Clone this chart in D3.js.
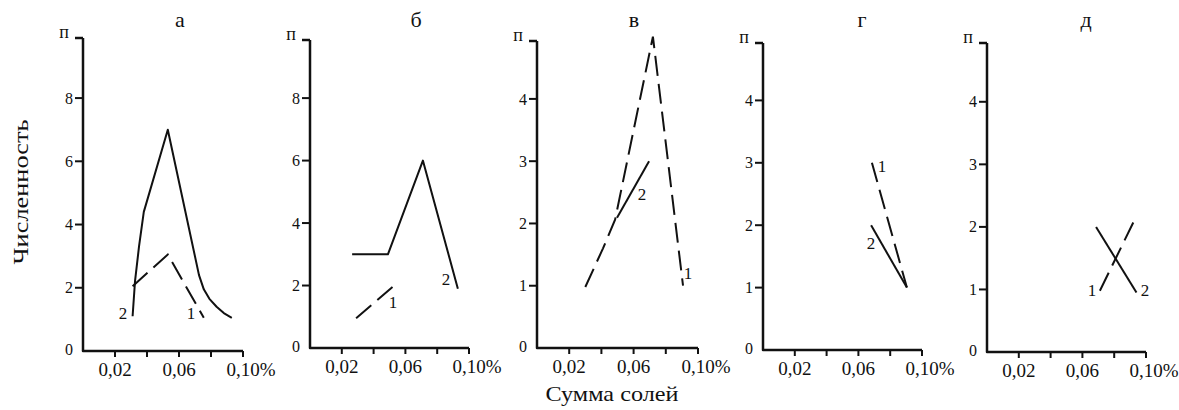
<!DOCTYPE html>
<html><head><meta charset="utf-8">
<script src="https://cdn.jsdelivr.net/npm/d3@7"></script>
<style>
body{margin:0;background:#fff}
svg{display:block}
text{font-family:"Liberation Serif","Times New Roman",serif;fill:#111}
</style>
</head><body>
<svg id="chart" width="1179" height="410"></svg>
<script>
// ---- DATA ----
const panelTitles = ["а", "б", "в", "г", "д"];
const yTicksA = [0, 2, 4, 6, 8];          // panels а, б
const yTicksB = [0, 1, 2, 3, 4];          // panels в, г, д
const xTicks = [0.02, 0.04, 0.06, 0.08, 0.10];
const xTickLabels = ["0,02", "", "0,06", "", "0,10%"];
const yAxisSymbol = "п";
const yTitle = "Численность";
const xTitle = "Сумма солей";

// series "1" (dashed) and "2" (solid) per panel: [salt sum %, count]
const seriesA1 = [[0.031, 2.05], [0.053, 3.05], [0.0755, 1.05]];
const seriesA2 = [[0.031, 1.1], [0.0325, 2.2], [0.035, 3.3], [0.038, 4.4], [0.053, 7.0],
                  [0.0725, 2.4], [0.0755, 1.95], [0.079, 1.65], [0.0835, 1.4], [0.088, 1.2], [0.093, 1.05]];
const seriesB1 = [[0.029, 0.95], [0.053, 2.0]];
const seriesB2 = [[0.0265, 3.0], [0.049, 3.0], [0.071, 6.0], [0.093, 1.9]];
const seriesV1 = [[0.030, 0.98], [0.041, 1.6], [0.0485, 2.06], [0.072, 5.0], [0.0907, 1.0]];
const seriesV2 = [[0.0497, 2.09], [0.0696, 3.0]];
const seriesG1 = [[0.0685, 3.0], [0.0905, 1.0]];
const seriesG2 = [[0.068, 2.0], [0.0905, 1.0]];
const seriesD1 = [[0.071, 0.98], [0.092, 2.07]];
const seriesD2 = [[0.0686, 2.0], [0.094, 0.95]];

// curve number labels: [x, y, text]
const labelsA = [[0.025, 1.2, "2"], [0.0675, 1.2, "1"]];
const labelsB = [[0.0522, 1.47, "1"], [0.0855, 2.2, "2"]];
const labelsV = [[0.0652, 2.47, "2"], [0.0938, 1.2, "1"]];
const labelsG = [[0.0748, 2.94, "1"], [0.068, 1.71, "2"]];
const labelsD = [[0.066, 0.99, "1"], [0.0994, 0.99, "2"]];

// ---- LAYOUT ----
const panels = [
  {x0: 83,  xw: 160, y0: 351, yTop: 38, yMax: 9.9,  ticks: yTicksA, s1: seriesA1, s2: seriesA2, labels: labelsA},
  {x0: 310, xw: 159, y0: 348, yTop: 40, yMax: 9.86, ticks: yTicksA, s1: seriesB1, s2: seriesB2, labels: labelsB},
  {x0: 537, xw: 161, y0: 348, yTop: 41, yMax: 4.93, ticks: yTicksB, s1: seriesV1, s2: seriesV2, labels: labelsV},
  {x0: 763, xw: 159, y0: 350, yTop: 43, yMax: 4.92, ticks: yTicksB, s1: seriesG1, s2: seriesG2, labels: labelsG},
  {x0: 987, xw: 159, y0: 352, yTop: 43, yMax: 4.94, ticks: yTicksB, s1: seriesD1, s2: seriesD2, labels: labelsD}
];

const svg = d3.select("#chart");
const ink = "#111";

panels.forEach((p, i) => {
  const x = d3.scaleLinear().domain([0, 0.10]).range([p.x0, p.x0 + p.xw]);
  const y = d3.scaleLinear().domain([0, p.yMax]).range([p.y0, p.yTop]);
  const g = svg.append("g");

  // axes lines
  g.append("path")
    .attr("d", `M${x(0)},${y(p.yMax)}L${x(0)},${y(0)}L${x(0.10)},${y(0)}`)
    .attr("fill", "none").attr("stroke", ink).attr("stroke-width", 2.5)
    .attr("stroke-linejoin", "round");
  // top tick + п
  g.append("line").attr("x1", x(0) - 8).attr("x2", x(0)).attr("y1", y(p.yMax)).attr("y2", y(p.yMax))
    .attr("stroke", ink).attr("stroke-width", 2.5);
  g.append("text").attr("x", x(0) - 19).attr("y", y(p.yMax)).attr("text-anchor", "middle")
    .attr("font-size", 18).text(yAxisSymbol);

  // y ticks
  p.ticks.forEach(t => {
    if (t > 0) {
      g.append("line").attr("x1", x(0) - 8).attr("x2", x(0)).attr("y1", y(t)).attr("y2", y(t))
        .attr("stroke", ink).attr("stroke-width", 2);
    }
    g.append("text").attr("x", x(0) - 10).attr("y", y(t) - (t === 0 ? 2 : 0)).attr("dy", "0.35em")
      .attr("text-anchor", "end").attr("font-size", 16).text(t);
  });

  // x ticks
  xTicks.forEach((t, k) => {
    g.append("line").attr("x1", x(t)).attr("x2", x(t)).attr("y1", y(0)).attr("y2", y(0) + 6)
      .attr("stroke", ink).attr("stroke-width", 2);
    const lbl = xTickLabels[k];
    if (lbl) {
      const tx = g.append("text").attr("y", y(0) + 25).attr("font-size", 19).text(lbl);
      if (lbl.endsWith("%")) {
        const tmp = g.append("text").attr("font-size", 19).text(lbl.slice(0, -1));
        const w = tmp.node().getComputedTextLength();
        tmp.remove();
        tx.attr("x", x(t) - w / 2).attr("text-anchor", "start");
      } else {
        tx.attr("x", x(t)).attr("text-anchor", "middle");
      }
    }
  });

  // panel title
  g.append("text").attr("x", x(0.0) + [97, 106, 97, 99, 99][i]).attr("y", 27)
    .attr("text-anchor", "middle").attr("font-size", 22).text(panelTitles[i]);

  const line = d3.line().x(d => x(d[0])).y(d => y(d[1]));
  g.append("path").datum(p.s1).attr("d", line).attr("fill", "none").attr("stroke", ink)
    .attr("stroke-width", 2).attr("stroke-dasharray", "20,8");
  g.append("path").datum(p.s2).attr("d", line).attr("fill", "none").attr("stroke", ink)
    .attr("stroke-width", 2).attr("stroke-linejoin", "round");

  p.labels.forEach(l => {
    g.append("text").attr("x", x(l[0])).attr("y", y(l[1])).attr("dy", "0.35em")
      .attr("text-anchor", "middle").attr("font-size", 17).text(l[2]);
  });
});

// axis titles
svg.append("text").attr("transform", "translate(28,192) rotate(-90)")
  .attr("text-anchor", "middle").attr("font-size", 21)
  .attr("textLength", 145).attr("lengthAdjust", "spacingAndGlyphs").text(yTitle);
svg.append("text").attr("x", 612).attr("y", 401)
  .attr("text-anchor", "middle").attr("font-size", 22)
  .attr("textLength", 133).attr("lengthAdjust", "spacingAndGlyphs").text(xTitle);
</script>
</body></html>
